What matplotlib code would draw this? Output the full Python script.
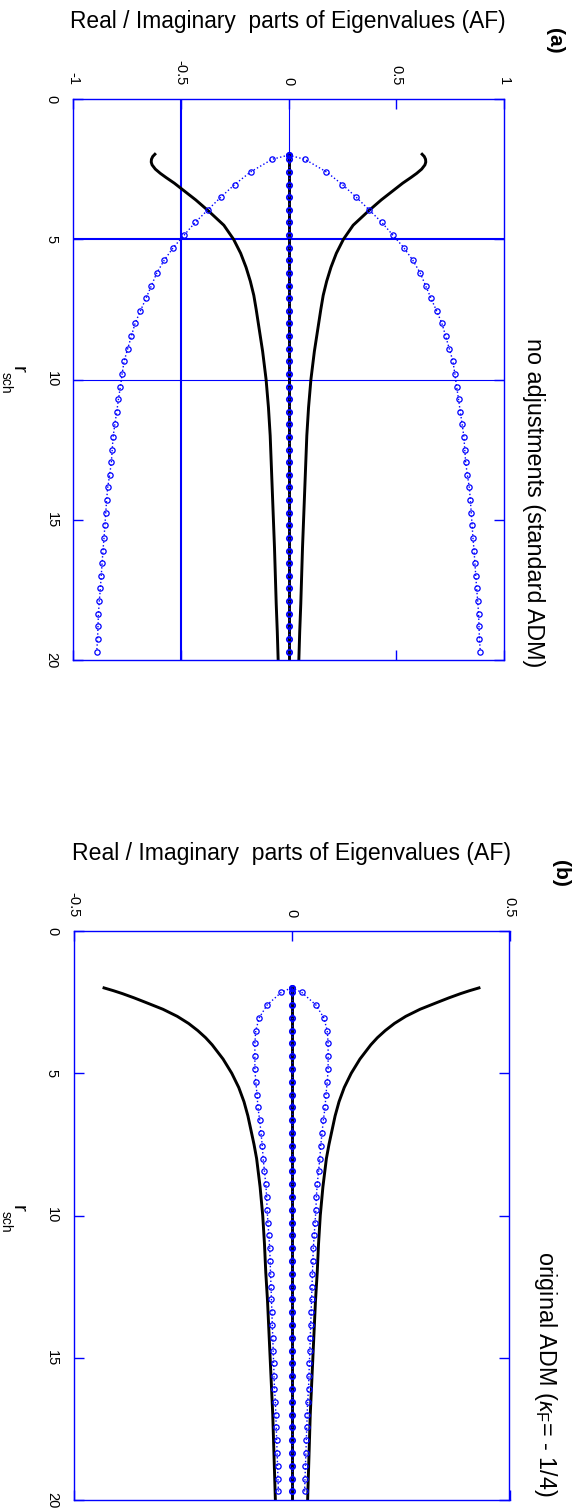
import matplotlib.pyplot as plt
import numpy as np

plt.rcParams['font.family'] = ['Liberation Sans', 'DejaVu Sans']
plt.rcParams['mathtext.fontset'] = 'custom'
plt.rcParams['mathtext.rm'] = 'Liberation Sans'
plt.rcParams['mathtext.it'] = 'Liberation Sans:italic'

W, H = 573, 1512

# r_sch sample points of the circle-marked branches
R_MARK = [2.0, 2.15, 2.6, 3.05, 3.5, 3.95, 4.4, 4.85, 5.3, 5.75, 6.2, 6.65,
          7.1, 7.55, 8.0, 8.45, 8.9, 9.35, 9.8, 10.25, 10.7, 11.15, 11.6,
          12.05, 12.5, 12.95, 13.4, 13.85, 14.3, 14.75, 15.2, 15.65, 16.1,
          16.55, 17.0, 17.45, 17.9, 18.35, 18.8, 19.25, 19.7]

# (a) no adjustments: imaginary parts (+/-)
IM_A = [0.0, 0.076, 0.176, 0.25, 0.314, 0.374, 0.433, 0.484, 0.535, 0.577,
        0.611, 0.636, 0.661, 0.687, 0.712, 0.729, 0.746, 0.763, 0.772, 0.780,
        0.789, 0.797, 0.806, 0.814, 0.818, 0.822, 0.830, 0.839, 0.844, 0.848,
        0.852, 0.856, 0.861, 0.865, 0.869, 0.873, 0.878, 0.882, 0.884, 0.886,
        0.890]

# (a) real parts (+/-)
R_RE_A = [1.97, 2.05, 2.15, 2.25, 2.35, 2.5, 2.65, 2.8, 3.0, 3.3, 3.6, 4.0,
          4.5, 5.0, 5.5, 6.0, 6.5, 7.0, 7.5, 8.0, 9.0, 10.0, 11.0, 12.0,
          13.0, 14.0, 15.0, 16.0, 17.0, 18.0, 19.0, 20.0]
RE_A = [0.62, 0.63, 0.636, 0.637, 0.633, 0.618, 0.595, 0.568, 0.53, 0.48,
        0.43, 0.37, 0.30, 0.255, 0.222, 0.197, 0.177, 0.161, 0.15, 0.14,
        0.12, 0.104, 0.093, 0.085, 0.08, 0.075, 0.07, 0.065, 0.061, 0.057,
        0.052, 0.048]

# (b) original ADM: imaginary parts (+/-)
IM_B = [0.0, 0.023, 0.056, 0.074, 0.082, 0.084, 0.084, 0.084, 0.082, 0.079,
        0.077, 0.073, 0.070, 0.067, 0.065, 0.062, 0.059, 0.057, 0.056, 0.054,
        0.052, 0.050, 0.049, 0.048, 0.047, 0.046, 0.045, 0.044, 0.043, 0.042,
        0.041, 0.040, 0.039, 0.037, 0.036, 0.035, 0.034, 0.033, 0.032, 0.031,
        0.030]

# (b) real parts (+/-)
R_RE_B = [2.0, 2.1, 2.2, 2.35, 2.5, 2.75, 3.0, 3.25, 3.5, 3.75, 4.0, 4.5,
          5.0, 5.5, 6.0, 6.5, 7.0, 7.5, 8.0, 9.0, 10.0, 11.0, 12.0, 13.0,
          14.0, 15.0, 16.0, 17.0, 18.0, 19.0, 20.0]
RE_B = [0.43, 0.408, 0.388, 0.361, 0.336, 0.295, 0.262, 0.236, 0.215, 0.197,
        0.182, 0.157, 0.137, 0.121, 0.109, 0.1, 0.093, 0.086, 0.08, 0.072,
        0.066, 0.062, 0.059, 0.055, 0.052, 0.049, 0.046, 0.043, 0.041, 0.039,
        0.037]

R_TICKS = [0, 5, 10, 15, 20]
R_LABELS = ['0', '5', '10', '15', '20']
A_TICKS = [-1, -0.5, 0, 0.5, 1]
A_LABELS = ['-1', '-0.5', '0', '0.5', '1']
B_TICKS = [-0.5, 0, 0.5]
B_LABELS = ['-0.5', '0', '0.5']

# reference lines drawn in panel (a)
A_VLINES = [(-0.5, 1.5), (0, 0.8)]
A_HLINES = [(5, 1.5), (10, 0.8)]

YLABEL = 'Real / Imaginary  parts of Eigenvalues (AF)'

BLUE = '#0000ff'
IM_STYLE = {"linestyle": ':', "linewidth": 1.0, "color": BLUE,
            "marker": 'o', "markersize": 3.8, "markerfacecolor": 'none',
            "markeredgewidth": 0.9}
RE_STYLE = {"linestyle": '-', "linewidth": 2.1, "color": 'black',
            "solid_joinstyle": 'round'}


def px(x, y):
    return x / W, 1 - y / H


def draw_panel(fig, rect, xlim, xticks, xlabels, r_re, re, im):
    l, t, r, b = rect
    ax = fig.add_axes([l / W, 1 - b / H, (r - l) / W, (b - t) / H])
    re = np.array(re)
    im = np.array(im)
    ax.plot([0, 0], [2, 20], **RE_STYLE)
    ax.plot(re, r_re, **RE_STYLE)
    ax.plot(-re, r_re, **RE_STYLE)
    ax.plot(im, R_MARK, **IM_STYLE)
    ax.plot(-im, R_MARK, **IM_STYLE)
    ax.plot(np.zeros(len(R_MARK)), R_MARK, **dict(IM_STYLE, markeredgewidth=1.3))
    ax.set_xlim(xlim)
    ax.set_ylim(20, 0)
    ax.set_xticks(xticks, xlabels)
    ax.set_yticks(R_TICKS, R_LABELS)
    ax.tick_params(direction='in', length=7, width=1, color=BLUE,
                   labelsize=10.5, top=True, bottom=True, left=True, right=True,
                   labeltop=True, labelbottom=False)
    ax.tick_params(axis='x', pad=10)
    ax.tick_params(axis='y', pad=10.5)
    for lab in ax.get_xticklabels():
        lab.set_rotation(-90)
    for lab in ax.get_yticklabels():
        lab.set_rotation(-90)
        lab.set_va('center')
    for sp in ax.spines.values():
        sp.set_color(BLUE)
        sp.set_linewidth(1.0)
    return ax


fig = plt.figure(figsize=(W / 100, H / 100), dpi=100)

ax_a = draw_panel(fig, (73, 99, 504, 660), (-1, 1), A_TICKS, A_LABELS,
                  R_RE_A, RE_A, IM_A)
for v, lw in A_VLINES:
    ax_a.axvline(v, color=BLUE, lw=lw, zorder=1)
for v, lw in A_HLINES:
    ax_a.axhline(v, color=BLUE, lw=lw, zorder=1)

ax_b = draw_panel(fig, (73.5, 931, 509.5, 1500), (-0.5, 0.5), B_TICKS, B_LABELS,
                  R_RE_B, RE_B, IM_B)

# value-axis labels (horizontal, above each panel)
fig.text(*px(287.5, 28), YLABEL, fontsize=16.4, ha='center', va='baseline')
fig.text(*px(291, 860), YLABEL, fontsize=16.6, ha='center', va='baseline')

# panel letters
fig.text(*px(555, 41), '(a)', fontsize=15, fontweight='bold', rotation=-90,
         ha='center', va='center')
fig.text(*px(561, 873), '(b)', fontsize=15, fontweight='bold', rotation=-90,
         ha='center', va='center')

# panel titles
fig.text(*px(545, 667), 'no adjustments (standard ADM)', fontsize=16.8,
         rotation=-90, ha='right', va='bottom')
fig.text(*px(559, 1497), r'original ADM ($\kappa_{\rm F}$= - 1/4)', fontsize=16.8,
         rotation=-90, ha='right', va='bottom')

# r_sch labels
for yc in (369, 1208):
    fig.text(*px(28, yc), 'r', fontsize=15, rotation=-90, ha='right', va='center')
    fig.text(*px(13, yc + 14), 'sch', fontsize=10, rotation=-90, ha='right',
             va='center')

fig.savefig('out.png', dpi=100)
